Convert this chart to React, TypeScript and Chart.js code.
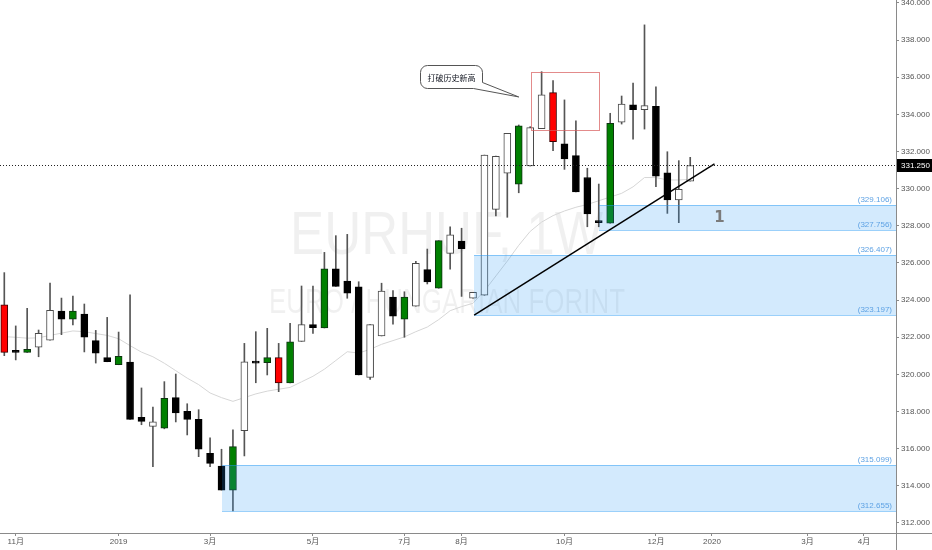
import React, { useEffect, useRef } from "react";
import { Chart, registerables } from "chart.js";

Chart.register(...registerables);

// Weekly EUR/HUF candles (index 0 = first visible week)
const OPEN = [
  323.74, 321.3, 321.19, 321.46, 321.84, 323.41, 322.98, 323.25, 321.82, 320.9,
  320.52, 320.67, 317.69, 317.2, 317.11, 318.75, 318.01, 317.58, 315.75, 315.07,
  313.77, 316.97, 320.68, 320.63, 320.9, 319.54, 321.78, 322.68, 322.5, 325.68,
  325.03, 324.71, 319.84, 322.07, 324.17, 322.97, 323.67, 325.64, 324.64, 326.52,
  327.18, 324.11, 324.26, 328.89, 330.83, 330.24, 331.22, 333.23, 335.17, 332.41,
  331.78, 330.6, 328.24, 328.14, 333.58, 334.51, 334.26, 334.44, 330.86, 329.39,
  330.41,
];
const HIGH = [
  325.48, 322.61, 323.56, 322.39, 324.92, 324.11, 324.22, 323.79, 322.37, 323.07,
  322.28, 324.29, 319.27, 318.24, 319.61, 320.02, 318.42, 318.1, 316.58, 315.97,
  317.01, 321.67, 322.3, 322.48, 321.67, 322.75, 324.76, 324.76, 326.57, 327.47,
  327.54, 324.99, 322.68, 324.91, 324.51, 324.45, 326.09, 326.75, 327.2, 327.95,
  327.87, 324.42, 331.81, 331.76, 332.98, 333.43, 333.34, 336.3, 335.82, 334.78,
  333.65, 331.1, 330.25, 334.06, 334.99, 335.68, 338.82, 335.49, 331.99, 331.51,
  331.69,
];
const LOW = [
  321.01, 320.78, 321.19, 320.95, 321.84, 322.14, 322.66, 321.21, 320.61, 320.68,
  320.52, 317.58, 317.29, 315.03, 317.07, 317.44, 316.74, 315.57, 315.03, 313.77,
  312.655, 315.61, 319.55, 319.97, 319.07, 319.54, 321.78, 322.21, 322.5, 324.74,
  324.1, 319.97, 319.73, 322.07, 322.7, 322.0, 323.67, 324.87, 324.64, 325.66,
  324.2, 324.11, 324.26, 328.53, 328.46, 329.78, 331.22, 333.23, 332.05, 331.04,
  329.82, 327.95, 327.95, 328.14, 333.48, 332.66, 333.21, 330.11, 328.67, 328.17,
  330.41,
];
const CLOSE = [
  321.19, 321.19, 321.35, 322.21, 323.45, 322.98, 323.41, 322.01, 321.14, 320.68,
  320.97, 317.58, 317.47, 317.44, 318.71, 317.92, 317.58, 315.98, 315.21, 313.77,
  316.11, 320.68, 320.61, 320.9, 319.54, 321.76, 322.68, 322.52, 325.68, 324.74,
  324.38, 319.97, 322.68, 324.49, 323.13, 324.17, 325.98, 324.98, 327.2, 327.51,
  326.77, 324.42, 331.81, 331.74, 332.98, 333.38, 333.29, 335.05, 332.53, 331.6,
  329.82, 328.64, 328.17, 333.52, 334.55, 334.26, 334.47, 330.68, 329.39, 329.97,
  331.25,
];
// Body style per week: r = red, g = green, b = black, w = hollow
const STYLE = [
  "r", "b", "g", "w", "w", "b", "g", "b", "b", "b",
  "g", "b", "b", "w", "g", "b", "b", "b", "b", "b",
  "g", "w", "b", "g", "r", "g", "w", "b", "g", "b",
  "b", "b", "w", "w", "b", "g", "w", "b", "g", "w",
  "b", "w", "w", "w", "w", "g", "w", "w", "r", "b",
  "b", "b", "b", "g", "w", "b", "w", "b", "b", "w",
  "w",
];
// Moving average overlay
const MA = [
  322.03, 322.0, 321.95, 321.97, 322.1, 322.22, 322.34, 322.3, 322.2, 322.1,
  321.92, 321.55, 321.2, 320.95, 320.6, 320.2, 319.8, 319.45, 319.0, 318.75,
  318.55, 318.75, 318.95, 319.1, 319.2, 319.3, 319.6, 319.9, 320.28, 320.75,
  321.22, 321.15, 321.35, 321.62, 321.82, 322.02, 322.3, 322.55, 322.95, 323.43,
  323.65, 323.83, 324.5, 325.3, 326.1, 326.95, 327.7, 328.2, 328.55, 328.8,
  329.0, 329.15, 329.35, 329.55, 329.75, 330.1, 330.6, 330.6, 330.47, 330.47,
  330.5,
];

const Y_TICKS = [312, 314, 316, 318, 320, 322, 324, 326, 328, 330, 332, 334, 336, 338, 340];
const X_TICK_POS = [1, 10, 18, 27, 35, 40, 49, 57, 61.9, 70.25, 75.2];
const X_TICK_LABELS = ["11月", "2019", "3月", "5月", "7月", "8月", "10月", "12月", "2020", "3月", "4月"];
const X_MIN = -0.376;
const X_MAX = 78.0;
const Y_MIN = 311.46;
const Y_MAX = 340.16;

const LAST_PRICE = 331.25;

// Demand zones (start week, top price, bottom price)
const ZONE_START = [52.05, 41.1, 19.05];
const ZONE_TOP = [329.106, 326.407, 315.099];
const ZONE_BOTTOM = [327.756, 323.197, 312.655];
const ZONE_TAG = "1";
const ZONE_TAG_AT = [62.55, 328.44];

// Rising trend line
const TREND_X = [41.1, 62.12];
const TREND_Y = [323.197, 331.33];

// Record-high box
const BOX_X = [46.1, 52.05];
const BOX_Y = [336.3, 333.18];

// Callout
const CALLOUT_TEXT = "打破历史新高";
const CALLOUT_AT = [39.05, 336.02];
const CALLOUT_TIP = [45.0, 334.94];

const WATERMARK_TITLE = "EURHUF, 1W";
const WATERMARK_SUB = "EURO / HUNGARIAN FORINT";

const FONT = '"Liberation Sans", "Noto Sans CJK SC", sans-serif';

const FILL: Record<string, string> = { r: "#ff0000", g: "#008000", b: "#000000", w: "#ffffff" };
const EDGE: Record<string, string> = { r: "#3a0000", g: "#0d3310", b: "#000000", w: "#4a4a4a" };

const overlayPlugin = {
  id: "overlay",
  beforeDatasetsDraw(chart: any) {
    const { ctx, chartArea: a } = chart;
    const cx = (a.left + a.right) / 2;
    ctx.save();
    ctx.fillStyle = "rgba(0,0,0,0.06)";
    ctx.textAlign = "center";
    ctx.textBaseline = "middle";
    ctx.font = `62px ${FONT}`;
    ctx.fillText(WATERMARK_TITLE, cx - 1.5, a.top + 237, 313);
    ctx.font = `35px ${FONT}`;
    ctx.fillText(WATERMARK_SUB, cx - 1, a.top + 303, 356);
    ctx.restore();
  },
  afterDatasetsDraw(chart: any) {
    const { ctx, chartArea: a } = chart;
    const xs = chart.scales.x;
    const ys = chart.scales.y;
    const X = (v: number) => xs.getPixelForValue(v);
    const Y = (v: number) => ys.getPixelForValue(v);
    ctx.save();

    // zones
    for (let k = 0; k < ZONE_START.length; k++) {
      const x0 = Math.round(X(ZONE_START[k]));
      const yt = Math.round(Y(ZONE_TOP[k]));
      const yb = Math.round(Y(ZONE_BOTTOM[k]));
      ctx.fillStyle = "rgba(33,150,243,0.2)";
      ctx.fillRect(x0, yt, a.right - x0, yb - yt);
      ctx.strokeStyle = "rgba(33,150,243,0.45)";
      ctx.lineWidth = 1;
      ctx.beginPath();
      ctx.moveTo(x0, yt + 0.5);
      ctx.lineTo(a.right, yt + 0.5);
      ctx.moveTo(x0, yb + 0.5);
      ctx.lineTo(a.right, yb + 0.5);
      ctx.stroke();
      ctx.fillStyle = "#5ea2e4";
      ctx.font = `8px ${FONT}`;
      ctx.textAlign = "right";
      ctx.textBaseline = "bottom";
      ctx.fillText(`(${ZONE_TOP[k].toFixed(3)})`, a.right - 4, yt - 1);
      ctx.fillText(`(${ZONE_BOTTOM[k].toFixed(3)})`, a.right - 4, yb - 1);
    }

    // zone tag
    ctx.fillStyle = "#7b7b7b";
    ctx.font = 'bold 15px "DejaVu Sans", sans-serif';
    ctx.textAlign = "center";
    ctx.textBaseline = "middle";
    ctx.fillText(ZONE_TAG, X(ZONE_TAG_AT[0]), Y(ZONE_TAG_AT[1]));

    // record-high box
    ctx.strokeStyle = "rgba(215,90,90,0.7)";
    ctx.lineWidth = 1;
    const bx0 = Math.round(X(BOX_X[0])) + 0.5;
    const bx1 = Math.round(X(BOX_X[1])) + 0.5;
    const by0 = Math.round(Y(BOX_Y[0])) + 0.5;
    const by1 = Math.round(Y(BOX_Y[1])) + 0.5;
    ctx.strokeRect(bx0, by0, bx1 - bx0, by1 - by0);

    // trend line
    ctx.strokeStyle = "#000000";
    ctx.lineWidth = 1.5;
    ctx.beginPath();
    ctx.moveTo(X(TREND_X[0]), Y(TREND_Y[0]));
    ctx.lineTo(X(TREND_X[1]), Y(TREND_Y[1]));
    ctx.stroke();

    // last price dotted line
    const yp = Math.round(Y(LAST_PRICE)) + 0.5;
    ctx.strokeStyle = "#222222";
    ctx.lineWidth = 1;
    ctx.setLineDash([1, 2]);
    ctx.beginPath();
    ctx.moveTo(a.left, yp);
    ctx.lineTo(a.right, yp);
    ctx.stroke();
    ctx.setLineDash([]);

    // callout bubble
    const cx = X(CALLOUT_AT[0]);
    const cy = Y(CALLOUT_AT[1]);
    const w = 62;
    const h = 23;
    const r = 7;
    const l = Math.round(cx - w / 2) + 0.5;
    const t = Math.round(cy - h / 2) + 0.5;
    const rt = l + w;
    const bt = t + h;
    const tx = X(CALLOUT_TIP[0]);
    const ty = Y(CALLOUT_TIP[1]);
    ctx.beginPath();
    ctx.moveTo(l + r, t);
    ctx.lineTo(rt - r, t);
    ctx.arcTo(rt, t, rt, t + r, r);
    ctx.lineTo(rt, bt - 6);
    ctx.lineTo(tx, ty);
    ctx.lineTo(rt - 9, bt);
    ctx.lineTo(l + r, bt);
    ctx.arcTo(l, bt, l, bt - r, r);
    ctx.lineTo(l, t + r);
    ctx.arcTo(l, t, l + r, t, r);
    ctx.closePath();
    ctx.fillStyle = "#ffffff";
    ctx.fill();
    ctx.strokeStyle = "#555555";
    ctx.lineWidth = 1;
    ctx.stroke();
    ctx.fillStyle = "#131722";
    ctx.font = '8px "Noto Sans CJK SC", sans-serif';
    ctx.textAlign = "center";
    ctx.textBaseline = "middle";
    ctx.fillText(CALLOUT_TEXT, l + w / 2, t + h / 2 + 0.5);

    ctx.restore();
  },
  afterDraw(chart: any) {
    const { ctx, chartArea: a, width, height } = chart;
    const ys = chart.scales.y;
    ctx.save();
    ctx.strokeStyle = "#8a8a8a";
    ctx.lineWidth = 1;
    ctx.beginPath();
    ctx.moveTo(a.right + 0.5, 0);
    ctx.lineTo(a.right + 0.5, height);
    ctx.moveTo(0, a.bottom + 0.5);
    ctx.lineTo(width, a.bottom + 0.5);
    ctx.stroke();

    // last price tag
    const yp = Math.round(ys.getPixelForValue(LAST_PRICE));
    ctx.fillStyle = "#000000";
    ctx.fillRect(a.right + 1, yp - 6, width - a.right - 1, 13);
    ctx.fillStyle = "#ffffff";
    ctx.font = `8px ${FONT}`;
    ctx.textAlign = "left";
    ctx.textBaseline = "middle";
    ctx.fillText(LAST_PRICE.toFixed(3), a.right + 5, yp + 0.5);
    ctx.restore();
  },
};

export default function App() {
  const canvasRef = useRef<HTMLCanvasElement | null>(null);

  useEffect(() => {
    const canvas = canvasRef.current;
    if (!canvas) return;
    const idx = OPEN.map((_, i) => i);

    const chart = new Chart(canvas, {
      type: "bar",
      data: {
        datasets: [
          {
            type: "bar",
            label: "body",
            data: idx.map((i) => ({ x: i, y: [OPEN[i], CLOSE[i]] })) as any,
            backgroundColor: idx.map((i) => FILL[STYLE[i]]),
            borderColor: idx.map((i) => EDGE[STYLE[i]]),
            borderWidth: 1,
            borderSkipped: false,
            barThickness: 7,
            minBarLength: 2,
            grouped: false,
            order: 1,
          } as any,
          {
            type: "bar",
            label: "wick",
            data: idx.map((i) => ({ x: i, y: [LOW[i], HIGH[i]] })) as any,
            backgroundColor: "#555555",
            borderWidth: 0,
            barThickness: 1,
            grouped: false,
            order: 2,
          } as any,
          {
            type: "line",
            label: "MA",
            data: idx.map((i) => ({ x: i, y: MA[i] })) as any,
            borderColor: "#d6d6d6",
            borderWidth: 1,
            pointRadius: 0,
            tension: 0,
            fill: false,
            order: 3,
          } as any,
        ],
      },
      options: {
        animation: false,
        responsive: false,
        devicePixelRatio: 1,
        events: [],
        layout: { padding: 0 },
        plugins: { legend: { display: false }, tooltip: { enabled: false } },
        scales: {
          x: {
            type: "linear",
            position: "bottom",
            min: X_MIN,
            max: X_MAX,
            bounds: "data",
            offset: false,
            grid: { offset: false, drawOnChartArea: false, drawTicks: true, tickLength: 3, color: "#8a8a8a" },
            border: { display: false },
            ticks: {
              autoSkip: false,
              maxRotation: 0,
              padding: 1,
              color: "#555555",
              font: { family: FONT, size: 8 },
              callback: (_v: any, i: number) => X_TICK_LABELS[i],
            },
            afterBuildTicks: (s: any) => {
              s.ticks = X_TICK_POS.map((v) => ({ value: v }));
            },
            afterFit: (s: any) => {
              s.height = 17;
              s.paddingLeft = 0;
              s.paddingRight = 0;
              s.paddingTop = 0;
              s.paddingBottom = 0;
            },
          } as any,
          y: {
            type: "linear",
            position: "right",
            min: Y_MIN,
            max: Y_MAX,
            bounds: "data",
            grid: { offset: false, drawOnChartArea: false, drawTicks: true, tickLength: 3, color: "#8a8a8a" },
            border: { display: false },
            ticks: {
              autoSkip: false,
              padding: 2,
              color: "#555555",
              font: { family: FONT, size: 8 },
              callback: (v: any) => Number(v).toFixed(3),
            },
            afterBuildTicks: (s: any) => {
              s.ticks = Y_TICKS.map((v) => ({ value: v }));
            },
            afterFit: (s: any) => {
              s.width = 36;
              s.paddingLeft = 0;
              s.paddingRight = 0;
              s.paddingTop = 0;
              s.paddingBottom = 0;
            },
          } as any,
        },
      },
      plugins: [overlayPlugin],
    });

    return () => chart.destroy();
  }, []);

  return (
    <div style={{ position: "absolute", left: 0, top: 0, width: 932, height: 550, background: "#ffffff" }}>
      <canvas ref={canvasRef} width={932} height={550} style={{ display: "block", width: 932, height: 550 }} />
    </div>
  );
}
